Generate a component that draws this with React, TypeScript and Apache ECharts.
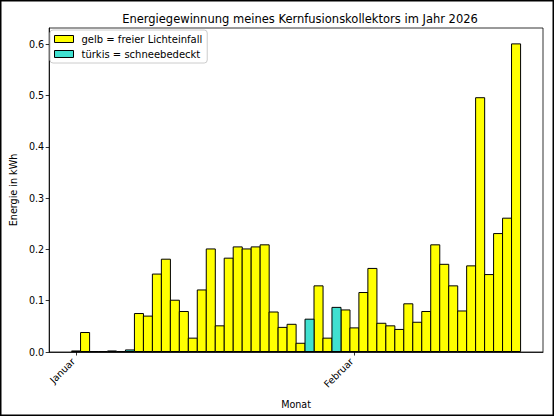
import * as echarts from "echarts";
import React, { useEffect, useRef } from "react";

// Tage (Jan 1 .. Feb 19, 2026)
const dates = [
  "2026-01-01", "2026-01-02", "2026-01-03", "2026-01-04", "2026-01-05",
  "2026-01-06", "2026-01-07", "2026-01-08", "2026-01-09", "2026-01-10",
  "2026-01-11", "2026-01-12", "2026-01-13", "2026-01-14", "2026-01-15",
  "2026-01-16", "2026-01-17", "2026-01-18", "2026-01-19", "2026-01-20",
  "2026-01-21", "2026-01-22", "2026-01-23", "2026-01-24", "2026-01-25",
  "2026-01-26", "2026-01-27", "2026-01-28", "2026-01-29", "2026-01-30",
  "2026-01-31", "2026-02-01", "2026-02-02", "2026-02-03", "2026-02-04",
  "2026-02-05", "2026-02-06", "2026-02-07", "2026-02-08", "2026-02-09",
  "2026-02-10", "2026-02-11", "2026-02-12", "2026-02-13", "2026-02-14",
  "2026-02-15", "2026-02-16", "2026-02-17", "2026-02-18", "2026-02-19",
];

const energy = [
  0.003, 0.039, 0.001, 0.0005, 0.003, 0.001, 0.005, 0.076, 0.071, 0.153,
  0.182, 0.102, 0.08, 0.028, 0.122, 0.202, 0.052, 0.184, 0.206, 0.202,
  0.206, 0.21, 0.079, 0.049, 0.055, 0.018, 0.065, 0.13, 0.028, 0.088,
  0.083, 0.048, 0.117, 0.164, 0.057, 0.052, 0.045, 0.095, 0.059, 0.08,
  0.21, 0.172, 0.13, 0.081, 0.169, 0.497, 0.152, 0.232, 0.262, 0.602,
];

// true = schneebedeckt
const snow = [
  false, false, false, false, true, false, true, false, false, false,
  false, false, false, false, false, false, false, false, false, false,
  false, false, false, false, false, false, true, false, false, true,
  false, false, false, false, false, false, false, false, false, false,
  false, false, false, false, false, false, false, false, false, false,
];

const monthTicks = ["2026-01-01", "2026-02-01"];
const monthLabels = ["Januar", "Februar"];
const yTicks = [0, 0.1, 0.2, 0.3, 0.4, 0.5, 0.6];

const DAY = 86400000;
const start = Date.parse(dates[0]);
const dayIndex = (d: string) => Math.round((Date.parse(d) - start) / DAY);

const font = "DejaVu Sans";

export default function App() {
  const chartRef = useRef<HTMLDivElement>(null);

  useEffect(() => {
    document.body.style.margin = "0";
    if (!chartRef.current) return;
    const chart = echarts.init(chartRef.current, null, { renderer: "svg" });

    const idx = dates.map(dayIndex);
    const sunData = idx.map((x, i) => (snow[i] ? [x, null] : [x, energy[i]]));
    const snowData = idx.map((x, i) => (snow[i] ? [x, energy[i]] : [x, null]));
    const tickIdx = monthTicks.map(dayIndex);

    // echarts draws the border inside the bar, so one px more makes neighbours share their edge
    const barWidth = 497.5 / 55 + 1;

    const barStyle = (color: string) => ({
      color,
      borderColor: "#000",
      borderWidth: 1,
    });

    chart.setOption({
      animation: false,
      textStyle: { fontFamily: font },
      title: {
        text: "Energiegewinnung meines Kernfusionskollektors im Jahr 2026",
        left: 295,
        top: 8,
        textAlign: "center",
        textStyle: { fontFamily: font, fontSize: 11.5, fontWeight: "normal", color: "#000" },
      },
      graphic: [
        {
          type: "rect",
          shape: { x: 0.75, y: 0.75, width: 552.5, height: 414.5 },
          style: { fill: "none", stroke: "#000", lineWidth: 1.5 },
          silent: true,
        },
      ],
      legend: {
        orient: "vertical",
        left: 50,
        top: 30,
        padding: [4, 5, 4, 4],
        itemWidth: 19,
        itemHeight: 7,
        itemGap: 5,
        icon: "rect",
        backgroundColor: "rgba(255,255,255,0.8)",
        borderColor: "#ccc",
        borderWidth: 1,
        borderRadius: 3,
        itemStyle: { borderColor: "#000", borderWidth: 1 },
        textStyle: { fontFamily: font, fontSize: 10, color: "#000", padding: [0, 0, 0, 3] },
        data: ["gelb = freier Lichteinfall", "türkis = schneebedeckt"],
      },
      grid: {
        left: 45.5,
        right: 11,
        top: 28,
        bottom: 64,
        show: true,
        borderColor: "#000",
        borderWidth: 0.8,
        containLabel: false,
      },
      xAxis: {
        type: "value",
        min: -3,
        max: 52,
        name: "Monat",
        nameLocation: "middle",
        nameGap: 47,
        nameTextStyle: { fontFamily: font, fontSize: 9.6, color: "#000" },
        splitLine: { show: false },
        axisLine: { show: true, onZero: false, lineStyle: { color: "#000", width: 0.8 } },
        axisTick: {
          show: true,
          length: 3.5,
          customValues: tickIdx,
          lineStyle: { color: "#000", width: 0.8 },
        },
        axisLabel: {
          customValues: tickIdx,
          rotate: 45,
          margin: 5,
          padding: [0, 4, 0, 0],
          fontFamily: font,
          fontSize: 9.6,
          color: "#000",
          formatter: (v: number) => monthLabels[tickIdx.indexOf(Math.round(v))] ?? "",
        },
      },
      yAxis: {
        type: "value",
        min: 0,
        max: 0.632,
        name: "Energie in kWh",
        nameLocation: "middle",
        nameGap: 31,
        nameTextStyle: { fontFamily: font, fontSize: 9.6, color: "#000" },
        splitLine: { show: false },
        axisLine: { show: true, onZero: false, lineStyle: { color: "#000", width: 0.8 } },
        axisTick: {
          show: true,
          length: 3.5,
          customValues: yTicks,
          lineStyle: { color: "#000", width: 0.8 },
        },
        axisLabel: {
          customValues: yTicks,
          margin: 5,
          fontFamily: font,
          fontSize: 9.6,
          color: "#000",
          formatter: (v: number) => v.toFixed(1),
        },
      },
      series: [
        {
          name: "gelb = freier Lichteinfall",
          type: "bar",
          stack: "tag",
          data: sunData,
          barWidth,
          barMinHeight: 1,
          itemStyle: barStyle("#ffff00"),
        },
        {
          name: "türkis = schneebedeckt",
          type: "bar",
          stack: "tag",
          data: snowData,
          barWidth,
          barMinHeight: 1,
          itemStyle: barStyle("#40e0d0"),
        },
      ],
    });

    return () => {
      chart.dispose();
    };
  }, []);

  return <div ref={chartRef} style={{ width: "554px", height: "416px" }}></div>;
}
